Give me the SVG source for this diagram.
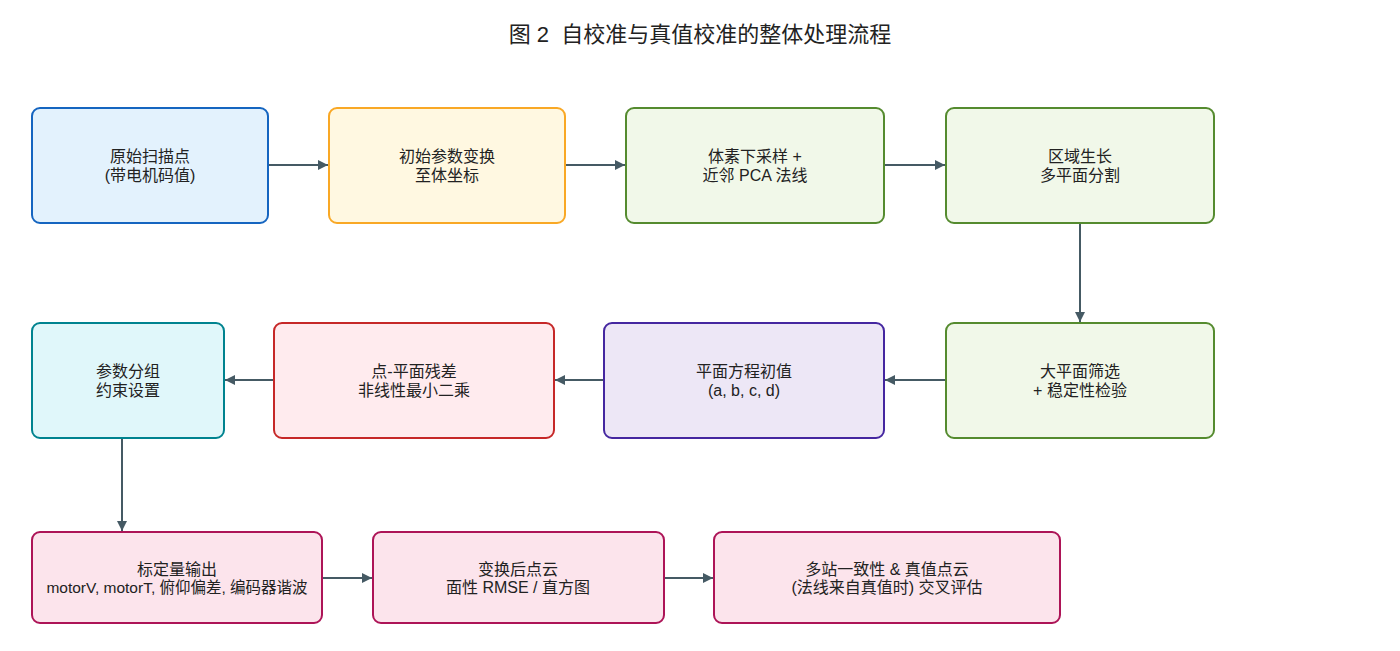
<svg xmlns="http://www.w3.org/2000/svg" width="1400" height="651" viewBox="0 0 1400 651">
<defs>
<marker id="ah" viewBox="0 0 10 10" refX="10" refY="5" markerWidth="10" markerHeight="10" markerUnits="userSpaceOnUse" orient="auto">
<path d="M0,0 L10,5 L0,10 z" fill="#455a64"/>
</marker>
<style>
text{font-family:"Liberation Sans","Noto Sans CJK SC",sans-serif;fill:#222;text-anchor:middle;font-size:16px}
.title{font-size:22px;white-space:pre}
rect{stroke-width:2}
.blue{fill:#e3f2fd;stroke:#1565c0}
.yellow{fill:#fff8e1;stroke:#f9a825}
.green{fill:#f1f8e9;stroke:#558b2f}
.purple{fill:#ede7f6;stroke:#4527a0}
.red{fill:#ffebee;stroke:#c62828}
.cyan{fill:#e0f7fa;stroke:#00838f}
.pink{fill:#fce4ec;stroke:#ad1457}
.edge{stroke:#455a64;stroke-width:2;fill:none;marker-end:url(#ah)}
</style>
</defs>
<rect width="1400" height="651" fill="#ffffff" style="stroke:none"/>
<text class="title" x="700" y="42" xml:space="preserve">图 2  自校准与真值校准的整体处理流程</text>
<g id="edges">
<line class="edge" x1="268" y1="165" x2="328" y2="165"/>
<line class="edge" x1="565" y1="165" x2="625" y2="165"/>
<line class="edge" x1="884" y1="165" x2="945" y2="165"/>
<line class="edge" x1="1080" y1="223" x2="1080" y2="322"/>
<line class="edge" x1="946" y1="380" x2="885" y2="380"/>
<line class="edge" x1="604" y1="380" x2="555" y2="380"/>
<line class="edge" x1="274" y1="380" x2="225" y2="380"/>
<line class="edge" x1="122" y1="438" x2="122" y2="531"/>
<line class="edge" x1="322" y1="578" x2="372" y2="578"/>
<line class="edge" x1="664" y1="578" x2="713" y2="578"/>
</g>
<g id="n1"><rect class="blue" x="32" y="108" width="236" height="115" rx="8"/><text x="150" y="162">原始扫描点</text><text x="150" y="181">(带电机码值)</text></g>
<g id="n2"><rect class="yellow" x="329" y="108" width="236" height="115" rx="8"/><text x="447" y="162">初始参数变换</text><text x="447" y="181">至体坐标</text></g>
<g id="n3"><rect class="green" x="626" y="108" width="258" height="115" rx="8"/><text x="755" y="162">体素下采样 +</text><text x="755" y="181">近邻 PCA 法线</text></g>
<g id="n4"><rect class="green" x="946" y="108" width="268" height="115" rx="8"/><text x="1080" y="162">区域生长</text><text x="1080" y="181">多平面分割</text></g>
<g id="n5"><rect class="green" x="946" y="323" width="268" height="115" rx="8"/><text x="1080" y="377">大平面筛选</text><text x="1080" y="396">+ 稳定性检验</text></g>
<g id="n6"><rect class="purple" x="604" y="323" width="280" height="115" rx="8"/><text x="744" y="377">平面方程初值</text><text x="744" y="396">(a, b, c, d)</text></g>
<g id="n7"><rect class="red" x="274" y="323" width="280" height="115" rx="8"/><text x="414" y="377">点-平面残差</text><text x="414" y="396">非线性最小二乘</text></g>
<g id="n8"><rect class="cyan" x="32" y="323" width="192" height="115" rx="8"/><text x="128" y="377">参数分组</text><text x="128" y="396">约束设置</text></g>
<g id="n9"><rect class="pink" x="32" y="532" width="290" height="91" rx="8"/><text x="177" y="575">标定量输出</text><text x="177" y="593" style="font-size:15.5px">motorV, motorT, 俯仰偏差, 编码器谐波</text></g>
<g id="n10"><rect class="pink" x="373" y="532" width="291" height="91" rx="8"/><text x="518" y="575">变换后点云</text><text x="518" y="593">面性 RMSE / 直方图</text></g>
<g id="n11"><rect class="pink" x="714" y="532" width="346" height="91" rx="8"/><text x="887" y="575">多站一致性 &amp; 真值点云</text><text x="887" y="593">(法线来自真值时) 交叉评估</text></g>
</svg>
